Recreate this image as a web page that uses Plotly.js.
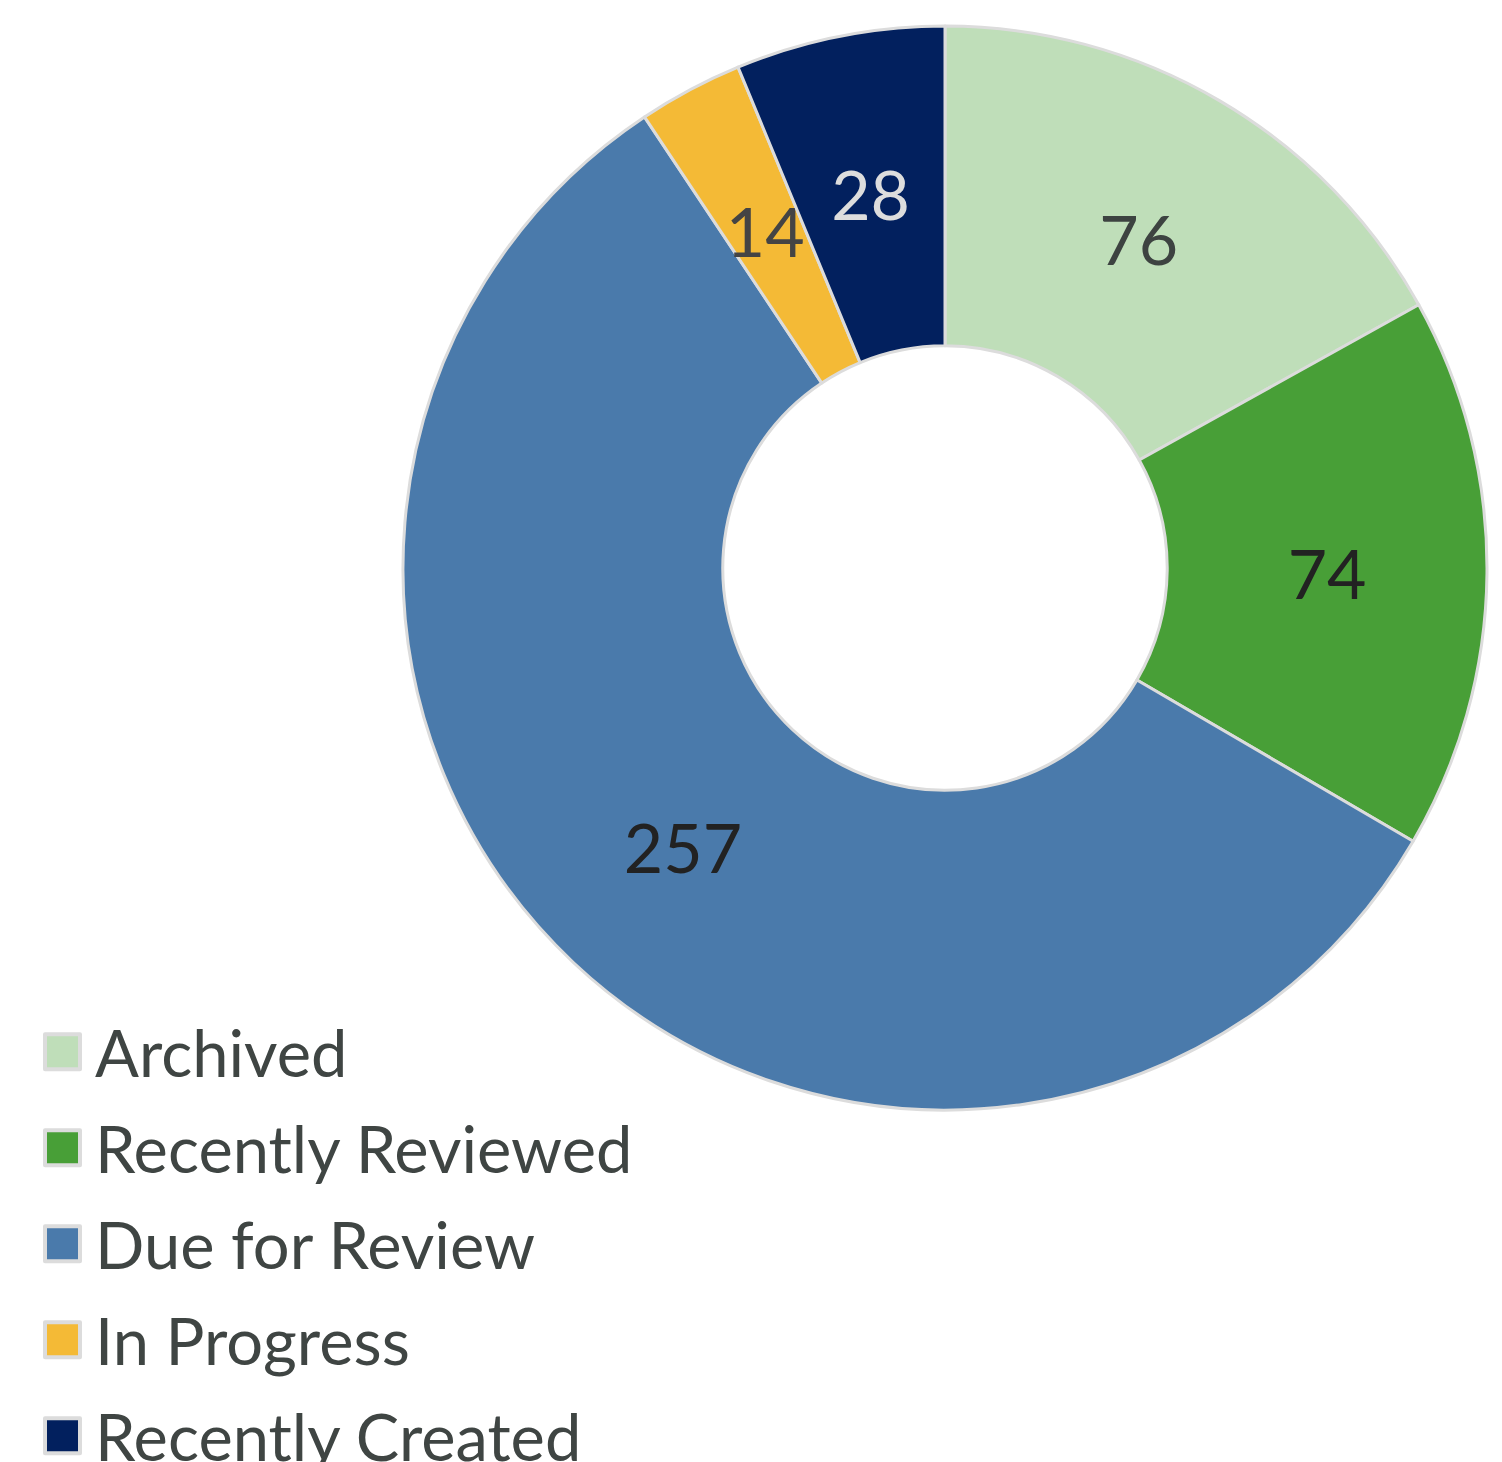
<!DOCTYPE html>
<html>
<head>
<meta charset="utf-8">
<script src="https://cdn.plot.ly/plotly-3.0.1.min.js"></script>
<style>
html,body{margin:0;padding:0;background:#fff;}
#chart{width:1502px;height:1462px;}
</style>
</head>
<body>
<div id="chart"></div>
<script>
const categories = ["Archived", "Recently Reviewed", "Due for Review", "In Progress", "Recently Created"];
const values = [76, 74, 257, 14, 28];
const sliceColors = ["#bfdeb9", "#489f37", "#4a7aab", "#f4ba36", "#02205e"];
const labelColors = ["#3d4341", "#222222", "#222222", "#444444", "#dddddd"];

const HOLE = 0.41;

const trace = {
  type: "pie",
  labels: categories,
  values: values,
  sort: false,
  direction: "clockwise",
  rotation: 0,
  hole: HOLE,
  textinfo: "value",
  textposition: "inside",
  insidetextorientation: "horizontal",
  textfont: {family: "Lato", size: 68, color: labelColors},
  marker: {colors: sliceColors, line: {color: "#dcdcdc", width: 3}},
  domain: {x: [403/1502, 1487/1502], y: [(1462-1110)/1462, (1462-26)/1462]},
  hoverinfo: "none"
};

const layout = {
  width: 1502,
  height: 1462,
  margin: {l: 0, r: 0, t: 0, b: 0, autoexpand: false},
  paper_bgcolor: "#ffffff",
  showlegend: true,
  uniformtext: {mode: "show", minsize: 68},
  legend: {
    x: 42.5/1502, xanchor: "left",
    y: (1462-1003)/1462, yanchor: "top",
    bgcolor: "rgba(0,0,0,0)",
    font: {family: "Lato", size: 65, color: "#3f4543"},
    traceorder: "normal"
  }
};

Plotly.newPlot("chart", [trace], layout, {displayModeBar: false, staticPlot: true}).then(function(gd){
  // legend: larger symbols and the reference's row spacing
  const sb = gd.querySelector(".legend .scrollbox");
  if(sb) sb.removeAttribute("clip-path");
  const items = gd.querySelectorAll(".legend .traces");
  let firstY = null;
  items.forEach(function(g, i){
    const tr = g.getAttribute("transform") || "";
    const m = tr.match(/translate\(\s*([-\d.]+)[ ,]+([-\d.]+)/);
    if(!m) return;
    const x = parseFloat(m[1]);
    const y = parseFloat(m[2]);
    if(firstY === null) firstY = y;
    g.setAttribute("transform", "translate(" + x + "," + (firstY + i*96) + ")");
    const p = g.querySelector("path.legendpie");
    if(p){
      p.setAttribute("d", "M17.5,17.5V-17.5H-17.5V17.5Z");
      p.style.strokeWidth = "4px";
      p.style.strokeLinejoin = "round";
    }
    const t = g.querySelector("text.legendtext");
    if(t){ t.setAttribute("x", 52.5); }
  });

  // slice labels: keep every value label on the middle of the ring
  const cd = gd.calcdata[0];
  const cd0 = cd[0];
  const rMid = (1 + HOLE) / 2;
  gd.querySelectorAll(".pielayer g.slice").forEach(function(s, i){
    const t = s.querySelector("text.slicetext");
    const pt = cd[i];
    if(!t || !pt || !pt.pxmid) return;
    const bb = t.getBBox();
    const tx = cd0.cx + pt.pxmid[0] * rMid - (bb.x + bb.width / 2);
    const ty = cd0.cy + pt.pxmid[1] * rMid - (bb.y + bb.height / 2);
    t.setAttribute("transform", "translate(" + tx + "," + ty + ")");
  });
});
</script>
</body>
</html>
